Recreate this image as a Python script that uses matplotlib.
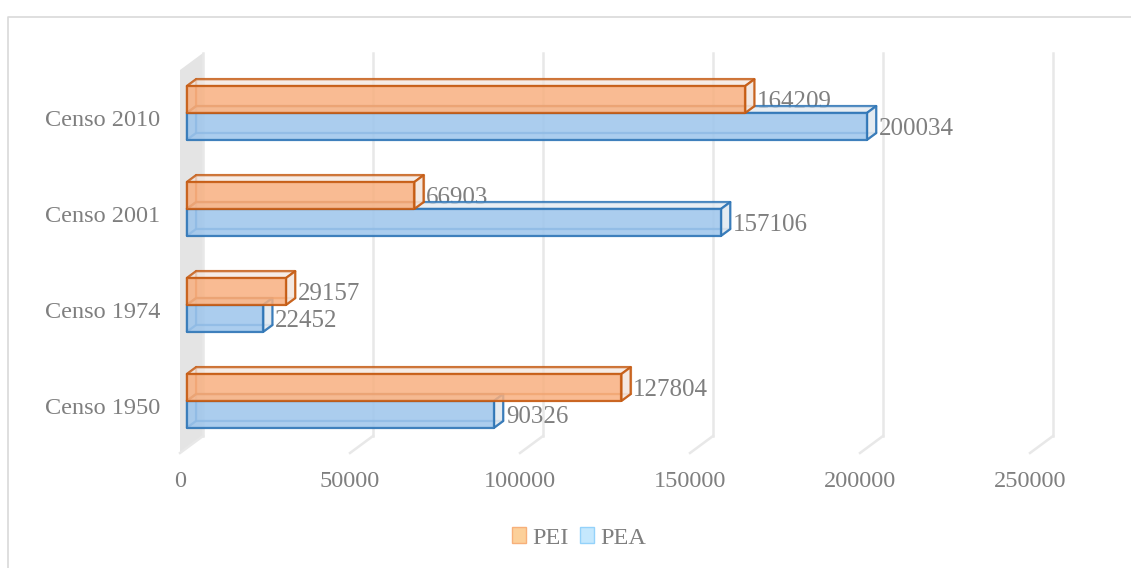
import matplotlib.pyplot as plt
from matplotlib.patches import Polygon, Patch
from matplotlib.lines import Line2D

plt.rcParams['font.family'] = ['Liberation Serif', 'DejaVu Serif']

categories = ['Censo 1950', 'Censo 1974', 'Censo 2001', 'Censo 2010']
pei = [127804, 29157, 66903, 164209]
pea = [90326, 22452, 157106, 200034]
xticks = [0, 50000, 100000, 150000, 200000, 250000]

# fake 3d: depth offsets (data units) and bar depth range
DX = 23 * 250000 / 850
DY = 17 / 96
D0, D1 = 0.3, 0.7
H = 0.28
YLO, YHI = -0.49, 3.5

gray = '#7F7F7F'
orange_fc, orange_side, orange_ec = '#F8B080', '#F3E6DE', '#C55A11'
blue_fc, blue_side, blue_ec = '#9DC5EC', '#E2E9F0', '#2E75B6'


def proj(v, y, d):
    return (v + d * DX, y + d * DY)


def face(ax, pts, fc, ec, alpha, z):
    ax.add_patch(Polygon([proj(*p) for p in pts], closed=True, facecolor=fc,
                         edgecolor=ec, lw=1.6, alpha=alpha, zorder=z,
                         clip_on=False, joinstyle='round'))


def bar3d(ax, v, y0, y1, fc, side, ec, z):
    # hidden faces first (seen through the translucent front)
    face(ax, [(0, y0, D1), (v, y0, D1), (v, y1, D1), (0, y1, D1)], 'none', ec, 0.5, z)
    face(ax, [(0, y0, D0), (0, y1, D0), (0, y1, D1), (0, y0, D1)], 'none', ec, 0.5, z)
    face(ax, [(0, y0, D0), (v, y0, D0), (v, y0, D1), (0, y0, D1)], 'none', ec, 0.5, z)
    # visible faces
    face(ax, [(0, y1, D0), (v, y1, D0), (v, y1, D1), (0, y1, D1)], side, ec, 0.75, z + 0.1)
    face(ax, [(v, y0, D0), (v, y1, D0), (v, y1, D1), (v, y0, D1)], side, ec, 0.9, z + 0.1)
    face(ax, [(0, y0, D0), (v, y0, D0), (v, y1, D0), (0, y1, D0)], fc, ec, 0.85, z + 0.2)


fig = plt.figure(figsize=(11.31, 5.68), dpi=100)
# chart area border (only top and left edges are inside the picture)
fig.lines.append(Line2D([8 / 1131, 8 / 1131, 1.0], [0.0, 1 - 17 / 568, 1 - 17 / 568],
                        transform=fig.transFigure, color='#D9D9D9', lw=1.2))
ax = fig.add_axes([180 / 1131, (568 - 453) / 568, 850 / 1131, (453 - 52) / 568])
ax.set_xlim(0, 250000)
ax.set_ylim(-0.49, 3.6875)

# left wall and back gridlines
ax.add_patch(Polygon([proj(0, YLO, 0), proj(0, YHI, 0), proj(0, YHI, 1), proj(0, YLO, 1)],
                     closed=True, facecolor='#E4E4E4', edgecolor='none', zorder=0,
                     clip_on=False))
for t in xticks:
    xs, ys = zip(proj(t, YLO, 1), proj(t, YHI, 1))
    ax.plot(xs, ys, color='#E8E8E8', lw=1.8, zorder=0.5, clip_on=False)
    xs, ys = zip(proj(t, YLO, 0), proj(t, YLO, 1))
    ax.plot(xs, ys, color='#E8E8E8', lw=1.8, zorder=0.5, clip_on=False)

for i in range(len(categories)):
    bar3d(ax, pea[i], i - H, i, blue_fc, blue_side, blue_ec, 3 + i)
    bar3d(ax, pei[i], i, i + H, orange_fc, orange_side, orange_ec, 3.5 + i)
    for v, yc in ((pea[i], i - H / 2), (pei[i], i + H / 2)):
        x, y = proj(v, yc, D0)
        ax.text(v + D1 * DX + 800, y - 0.03, str(v), ha='left', va='center',
                fontsize=18, color=gray, zorder=2)

ax.set_xticks(xticks)
ax.set_xticklabels([str(t) for t in xticks])
ax.set_yticks(range(len(categories)))
ax.set_yticklabels(categories)
ax.tick_params(length=0, labelsize=17.5, labelcolor=gray)
ax.tick_params(axis='x', pad=13)
ax.tick_params(axis='y', pad=14)
for s in ax.spines.values():
    s.set_visible(False)

handles = [Patch(facecolor='#FCD09A', edgecolor='#F7B07A', label='PEI'),
           Patch(facecolor='#C5E8FD', edgecolor='#94D2FA', label='PEA')]
fig.legend(handles=handles, loc='center', bbox_to_anchor=(579 / 1131, 1 - 538 / 568),
           ncol=2, frameon=False, fontsize=17.5, labelcolor=gray,
           handlelength=0.6, handleheight=0.6, handletextpad=0.25, columnspacing=0.45)

fig.savefig('out.png', dpi=100)
